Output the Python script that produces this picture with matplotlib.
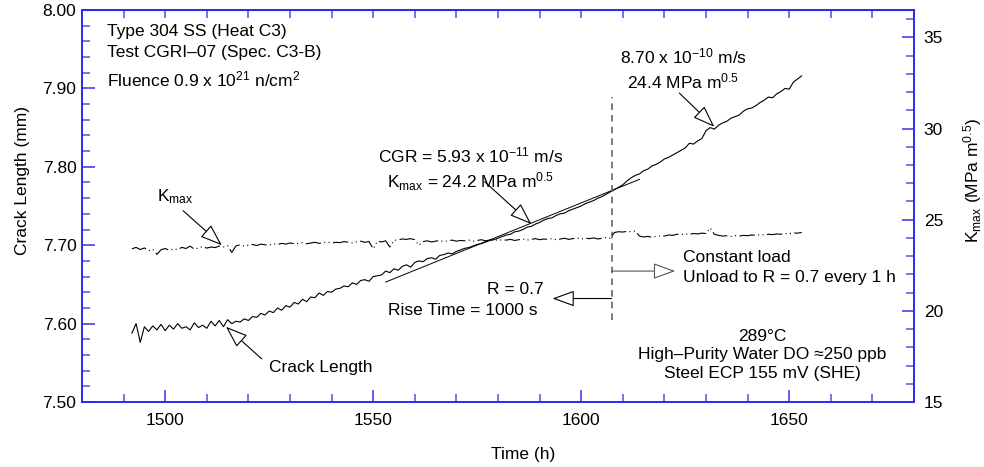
import numpy as np
import matplotlib.pyplot as plt
from matplotlib.ticker import MultipleLocator

plt.rcParams['font.family'] = ['Liberation Sans', 'DejaVu Sans']
plt.rcParams['mathtext.fontset'] = 'custom'
plt.rcParams['mathtext.rm'] = 'Liberation Sans'
plt.rcParams['mathtext.it'] = 'Liberation Sans:italic'
plt.rcParams['mathtext.bf'] = 'Liberation Sans:bold'
plt.rcParams['font.size'] = 12.5

# hourly readings, 1492 h to 1653 h
time_h = np.arange(1492, 1654)

crack_mm = [
    7.588, 7.600, 7.576, 7.596, 7.590, 7.597, 7.592, 7.599, 7.591, 7.598,
    7.593, 7.600, 7.594, 7.596, 7.592, 7.601, 7.595, 7.598, 7.594, 7.603,
    7.597, 7.604, 7.596, 7.605, 7.600, 7.603, 7.602, 7.606, 7.604, 7.609,
    7.608, 7.613, 7.611, 7.616, 7.614, 7.620, 7.617, 7.623, 7.621, 7.627,
    7.625, 7.631, 7.628, 7.634, 7.633, 7.639, 7.636, 7.641, 7.640, 7.644,
    7.645, 7.648, 7.647, 7.652, 7.650, 7.655, 7.656, 7.654, 7.660, 7.661,
    7.662, 7.667, 7.665, 7.670, 7.668, 7.673, 7.675, 7.672, 7.678, 7.680,
    7.679, 7.683, 7.684, 7.682, 7.687, 7.688, 7.690, 7.689, 7.692, 7.694,
    7.696, 7.697, 7.699, 7.701, 7.702, 7.704, 7.706, 7.707, 7.709, 7.711,
    7.713, 7.714, 7.717, 7.718, 7.720, 7.723, 7.724, 7.727, 7.729, 7.732,
    7.734, 7.735, 7.738, 7.740, 7.741, 7.744, 7.746, 7.748, 7.750, 7.753,
    7.755, 7.757, 7.760, 7.762, 7.765, 7.768, 7.771, 7.774, 7.777, 7.782,
    7.786, 7.789, 7.791, 7.795, 7.797, 7.801, 7.803, 7.806, 7.810, 7.812,
    7.815, 7.818, 7.821, 7.824, 7.830, 7.829, 7.833, 7.836, 7.846, 7.850,
    7.848, 7.853, 7.856, 7.858, 7.862, 7.864, 7.866, 7.871, 7.874, 7.875,
    7.878, 7.882, 7.885, 7.889, 7.888, 7.893, 7.896, 7.900, 7.899, 7.908,
    7.912, 7.916,
]

kmax = [
    23.40, 23.48, 23.36, 23.45, 23.30, 23.38, 23.10, 23.35, 23.42, 23.32,
    23.40, 23.36, 23.48, 23.42, 23.55, 23.38, 23.45, 23.52, 23.44, 23.50,
    23.47, 23.55, 23.50, 23.58, 23.20, 23.56, 23.62, 23.55, 23.60, 23.64,
    23.58, 23.66, 23.62, 23.60, 23.68, 23.64, 23.70, 23.66, 23.72, 23.68,
    23.70, 23.74, 23.68, 23.72, 23.76, 23.70, 23.74, 23.78, 23.72, 23.76,
    23.74, 23.80, 23.76, 23.72, 23.78, 23.82, 23.76, 23.80, 23.40, 23.82,
    23.78, 23.84, 23.50, 23.86, 23.90, 23.94, 23.92, 23.96, 23.90, 23.60,
    23.80, 23.84, 23.78, 23.82, 23.86, 23.80, 23.84, 23.88, 23.82, 23.86,
    23.84, 23.88, 23.82, 23.86, 23.90, 23.84, 23.88, 23.92, 23.86, 23.90,
    23.88, 23.92, 23.86, 23.90, 23.94, 23.88, 23.92, 23.96, 23.90, 23.94,
    23.92, 23.96, 23.90, 23.94, 23.98, 23.92, 23.96, 24.00, 23.94, 23.98,
    23.96, 24.00, 23.94, 23.98, 24.02, 23.98,
    24.30, 24.34, 24.32, 24.36, 24.34, 24.38, 24.10, 24.05, 24.08, 24.04,
    24.08, 24.12, 24.10, 24.16, 24.14, 24.20, 24.18, 24.22, 24.20, 24.24,
    24.22, 24.26, 24.24, 24.55, 24.20, 24.14, 24.10, 24.12, 24.08, 24.12,
    24.10, 24.14, 24.12, 24.16, 24.14, 24.18, 24.16, 24.20, 24.18, 24.22,
    24.20, 24.24, 24.22, 24.28, 24.26, 24.30,
]

# linear fit over the cyclic-loading period
fit_t = [1553, 1614]
fit_mm = [7.653, 7.784]

t_switch = 1607.3   # change to constant load

tick_blue = '#4f4ff0'
spine_blue = '#2a2aee'

fig = plt.figure(figsize=(9.84, 4.67), dpi=100)
ax = fig.add_axes([82/984, 65/467, 832/984, 392/467])
ax2 = ax.twinx()

ax.plot(time_h, crack_mm, color='black', lw=0.8)
ax.plot(fit_t, fit_mm, color='black', lw=0.7)
ax2.plot(time_h, kmax, color='black', lw=0.8, dashes=(14, 3, 1, 3, 1, 3))

ax.set_xlim(1480, 1680)
ax.set_ylim(7.5, 8.0)
ax2.set_ylim(15, 36.5)

ax.xaxis.set_major_locator(MultipleLocator(50))
ax.xaxis.set_minor_locator(MultipleLocator(10))
ax.yaxis.set_major_locator(MultipleLocator(0.1))
ax.yaxis.set_minor_locator(MultipleLocator(0.02))
ax.yaxis.set_major_formatter(lambda v, p: f'{v:.2f}')
ax2.yaxis.set_major_locator(MultipleLocator(5))
ax2.yaxis.set_minor_locator(MultipleLocator(1))

for a in (ax, ax2):
    for s in a.spines.values():
        s.set_color(spine_blue)
        s.set_linewidth(1.2)
ax.tick_params(axis='x', which='both', direction='in', color=tick_blue, pad=8)
ax.tick_params(axis='y', which='both', direction='in', color=tick_blue, pad=4)
ax2.tick_params(axis='y', which='both', direction='in', color=tick_blue, pad=7)
for a in (ax, ax2):
    a.tick_params(which='major', length=9, width=1.3, labelsize=12.5)
    a.tick_params(which='minor', length=6, width=1.1)

top = ax.secondary_xaxis('top')
top.xaxis.set_major_locator(MultipleLocator(10))
top.tick_params(direction='in', length=6, width=1.1, color=tick_blue, labeltop=False)
top.spines['top'].set_color(spine_blue)

ax.set_xlabel('Time (h)')
ax.xaxis.set_label_coords(0.53, -0.115)
ax.set_ylabel('Crack Length (mm)')
ax.yaxis.set_label_coords(-0.062, 0.565)
ax2.set_ylabel(r'K$_{\mathrm{max}}$ (MPa m$^{0.5}$)', rotation=90)
ax2.yaxis.set_label_coords(1.057, 0.565)

# specimen information
ax.text(1486, 7.972, 'Type 304 SS (Heat C3)', ha='left', va='center')
ax.text(1486, 7.946, 'Test CGRI–07 (Spec. C3-B)', ha='left', va='center')
ax.text(1486, 7.911, 'Fluence 0.9 x 10$^{21}$ n/cm$^2$', ha='left', va='center')

ax.text(1643.5, 7.584, '289°C', ha='center', va='center')
ax.text(1643.5, 7.560, 'High–Purity Water DO ≈250 ppb', ha='center', va='center')
ax.text(1643.5, 7.536, 'Steel ECP 155 mV (SHE)', ha='center', va='center')

hollow = dict(arrowstyle='-|>,head_length=1.1,head_width=0.4', fc='white',
              ec='black', lw=0.8, shrinkA=0, shrinkB=0)

# curve labels
ax.annotate('', xy=(1513.6, 7.700), xytext=(1504.3, 7.744), arrowprops=hollow)
ax.text(1498.0, 7.762, r'K$_{\mathrm{max}}$', ha='left', va='center')
ax.annotate('', xy=(1514.6, 7.596), xytext=(1523.2, 7.555), arrowprops=hollow)
ax.text(1525.0, 7.544, 'Crack Length', ha='left', va='center')

# growth rates
ax.annotate('', xy=(1588.0, 7.727), xytext=(1576.8, 7.781), arrowprops=hollow)
ax.text(1573.5, 7.815, 'CGR = 5.93 x 10$^{-11}$ m/s', ha='center', va='center')
ax.text(1573.5, 7.781, r'K$_{\mathrm{max}}$ = 24.2 MPa m$^{0.5}$', ha='center', va='center')
ax.annotate('', xy=(1632.0, 7.851), xytext=(1623.6, 7.894), arrowprops=hollow)
ax.text(1624.5, 7.941, '8.70 x 10$^{-10}$ m/s', ha='center', va='center')
ax.text(1624.5, 7.909, '24.4 MPa m$^{0.5}$', ha='center', va='center')

# loading change
ax.plot([t_switch, t_switch], [7.605, 7.889], color='#666666', lw=1.2,
        dashes=(4, 3))
ax.annotate('', xy=(1622.6, 7.667), xytext=(t_switch, 7.667),
            arrowprops=dict(hollow, ec='#555555'))
ax.text(1624.5, 7.684, 'Constant load', ha='left', va='center')
ax.text(1624.5, 7.659, 'Unload to R = 0.7 every 1 h', ha='left', va='center')
ax.annotate('', xy=(1593.1, 7.632), xytext=(t_switch, 7.632), arrowprops=hollow)
ax.text(1591.0, 7.644, 'R = 0.7', ha='right', va='center')
ax.text(1589.5, 7.617, 'Rise Time = 1000 s', ha='right', va='center')

fig.savefig('out.png', dpi=100)
